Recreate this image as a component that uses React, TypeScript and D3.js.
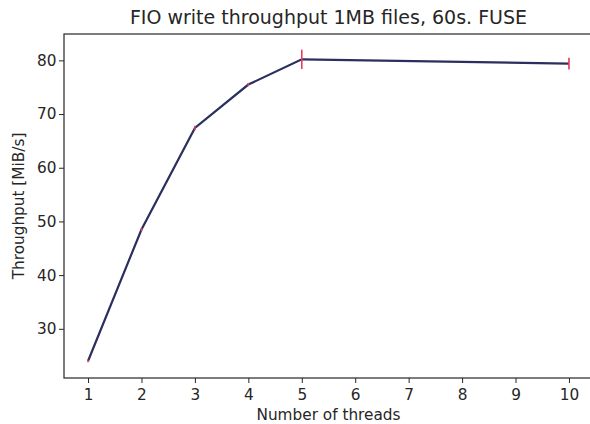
import React, { useRef, useEffect } from "react";
import * as d3 from "d3";

// values
const threads: number[] = [1, 2, 3, 4, 5, 10];
const throughput: number[] = [24.0, 48.5, 67.4, 75.5, 80.2, 79.4];
const errors: number[] = [0.25, 0.3, 0.4, 0.3, 1.8, 1.1];
const xTicks: number[] = [1, 2, 3, 4, 5, 6, 7, 8, 9, 10];
const yTicks: number[] = [30, 40, 50, 60, 70, 80];

const App = () => {
  const svgRef = useRef<SVGSVGElement>(null);

  useEffect(() => {
    const svg = d3.select(svgRef.current);
    const width = 590;
    const height = 424;
    const margin = { top: 34, right: -3, bottom: 46, left: 64 };
    svg.selectAll("*").remove();

    const font = "DejaVu Sans, sans-serif";
    const ink = "#262626";

    // matplotlib-style 5% margins
    const xMin = d3.min(threads)!;
    const xMax = d3.max(threads)!;
    const xPad = (xMax - xMin) * 0.05;
    const lo = d3.min(throughput, (d, i) => d - errors[i])!;
    const hi = d3.max(throughput, (d, i) => d + errors[i])!;
    const yPad = (hi - lo) * 0.05;

    const x = d3
      .scaleLinear()
      .domain([xMin - xPad, xMax + xPad])
      .range([margin.left, width - margin.right]);

    const y = d3
      .scaleLinear()
      .domain([lo - yPad, hi + yPad])
      .range([height - margin.bottom, margin.top]);

    // Line
    const line = d3
      .line<number>()
      .x((d, i) => x(threads[i]))
      .y((d) => y(d));

    svg
      .append("path")
      .datum(throughput)
      .attr("d", line)
      .attr("fill", "none")
      .attr("stroke", "#2a2f5e")
      .attr("stroke-width", 2.2);

    // Error bars
    svg
      .append("g")
      .selectAll("line")
      .data(throughput)
      .join("line")
      .attr("x1", (d, i) => x(threads[i]))
      .attr("x2", (d, i) => x(threads[i]))
      .attr("y1", (d, i) => y(d - errors[i]))
      .attr("y2", (d, i) => y(d + errors[i]))
      .attr("stroke", "#e83a5f")
      .attr("stroke-width", 1.6);

    // X Axis
    const xAxis = svg
      .append("g")
      .attr("transform", `translate(0,${height - margin.bottom})`)
      .call(d3.axisBottom(x).tickValues(xTicks).tickSize(5).tickPadding(6).tickFormat(d3.format("d")));
    xAxis.select(".domain").remove();

    // Y Axis
    const yAxis = svg
      .append("g")
      .attr("transform", `translate(${margin.left},0)`)
      .call(d3.axisLeft(y).tickValues(yTicks).tickSize(5).tickPadding(2.5).tickFormat(d3.format("d")));
    yAxis.select(".domain").remove();

    svg.selectAll(".tick text")
      .attr("font-family", font)
      .attr("font-size", "15.3px")
      .attr("fill", ink);
    svg.selectAll(".tick line").attr("stroke", ink).attr("stroke-width", 1);

    // Frame
    svg
      .append("rect")
      .attr("x", margin.left)
      .attr("y", margin.top)
      .attr("width", width - margin.right - margin.left)
      .attr("height", height - margin.bottom - margin.top)
      .attr("fill", "none")
      .attr("stroke", ink)
      .attr("stroke-width", 1.2);

    // Title
    svg
      .append("text")
      .attr("x", (margin.left + width - margin.right) / 2)
      .attr("y", 24)
      .attr("text-anchor", "middle")
      .attr("font-family", font)
      .attr("font-size", "19px")
      .attr("fill", ink)
      .text("FIO write throughput 1MB files, 60s. FUSE");

    // Axis labels
    svg
      .append("text")
      .attr("x", (margin.left + width - margin.right) / 2)
      .attr("y", 420)
      .attr("text-anchor", "middle")
      .attr("font-family", font)
      .attr("font-size", "15.3px")
      .attr("fill", ink)
      .text("Number of threads");

    svg
      .append("text")
      .attr("transform", `translate(24,${(margin.top + height - margin.bottom) / 2}) rotate(-90)`)
      .attr("text-anchor", "middle")
      .attr("font-family", font)
      .attr("font-size", "15.3px")
      .attr("fill", ink)
      .text("Throughput [MiB/s]");
  }, []);

  return (
    <div style={{ position: "fixed", left: 0, top: 0 }}>
      <svg ref={svgRef} width={590} height={424} style={{ display: "block", background: "#fff" }}></svg>
    </div>
  );
};

export default App;
